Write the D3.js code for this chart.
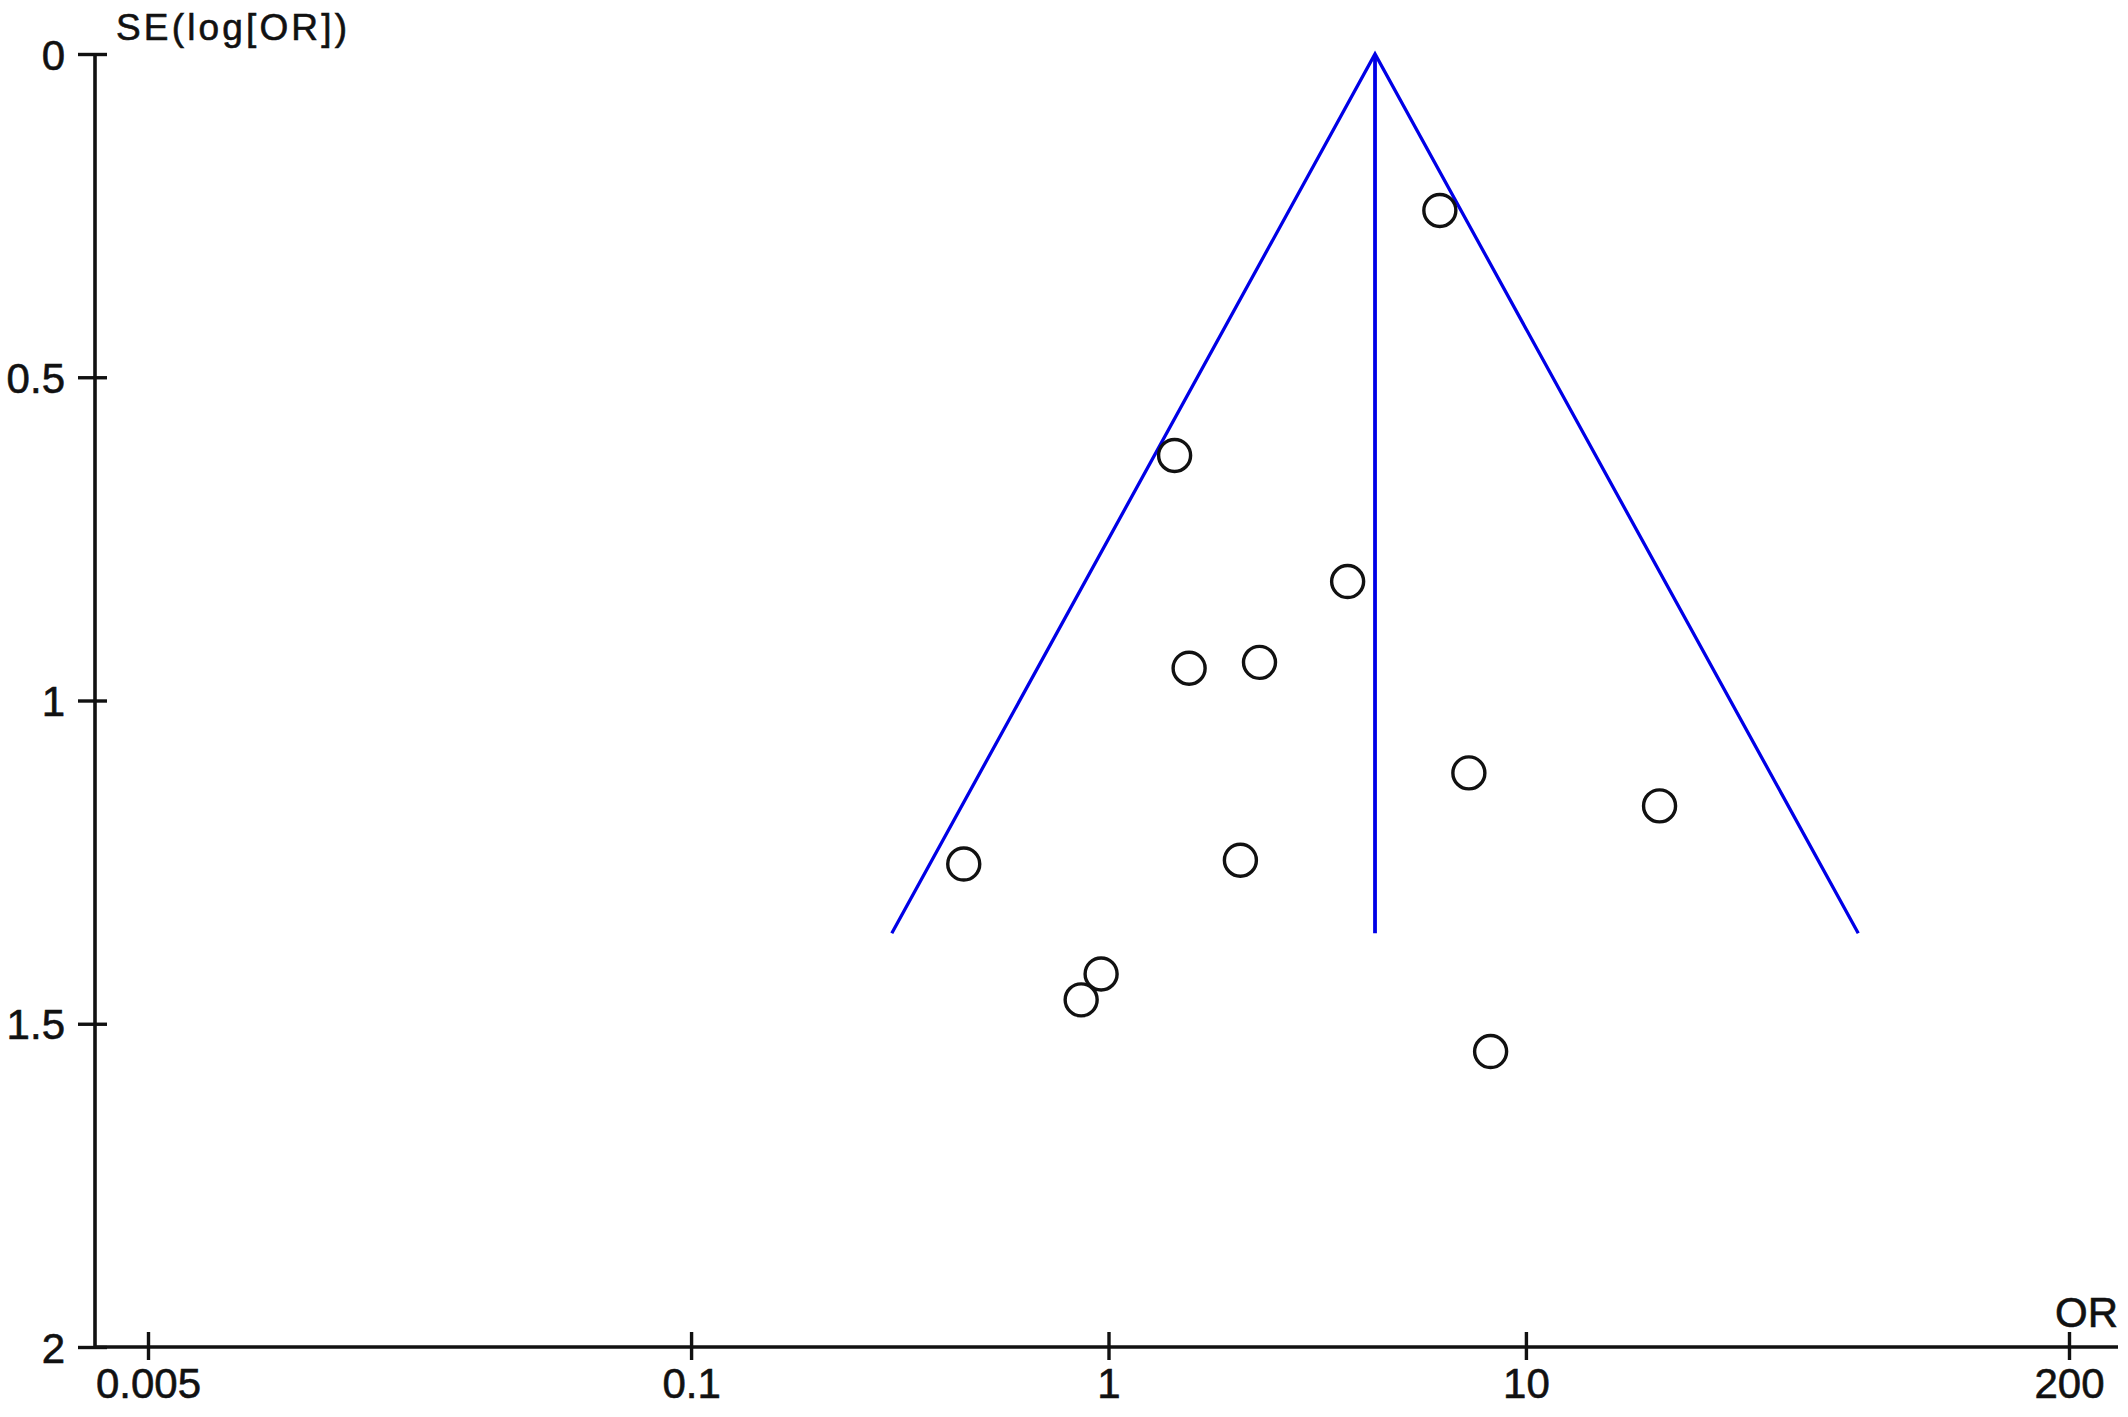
<!DOCTYPE html>
<html>
<head>
<meta charset="utf-8">
<script src="https://cdn.jsdelivr.net/npm/d3@7"></script>
<style>
  body { margin: 0; background: #fff; }
  svg { display: block; font-family: "Liberation Sans", Arial, sans-serif; }
  text { stroke: #111; stroke-width: 0.6px; }
</style>
</head>
<body>
<svg id="svg" width="2128" height="1417"></svg>
<script>
// ---- //
// Data //
// ---- //

// axis ticks
const orTicks = [0.005, 0.1, 1, 10, 200];
const seTicks = [0, 0.5, 1, 1.5, 2];

// one entry per study
const studyOR = [6.22, 1.44, 3.74, 1.56, 2.30, 7.30, 20.9, 0.45, 2.07, 0.96, 0.86, 8.23];
const studySE = [0.242, 0.621, 0.816, 0.950, 0.941, 1.112, 1.163, 1.253, 1.247, 1.423, 1.463, 1.543];

// pooled estimate and how deep the funnel goes
const pooledOR = 4.35;
const funnelMaxSE = 1.36;

// ------ //
// Scales //
// ------ //

const x = d3.scaleLog().domain([0.005, 200]).range([148, 2069]);
const y = d3.scaleLinear().domain([0, 2]).range([54, 1347]);

const axisLeftX = 95;
const axisRightX = 2118;

const svg = d3.select("#svg");

// ------ //
// Funnel //
// ------ //

// 95% limits around the pooled estimate
const z = 1.96;
const lo = Math.exp(Math.log(pooledOR) - z * funnelMaxSE);
const hi = Math.exp(Math.log(pooledOR) + z * funnelMaxSE);
const funnel = [[lo, funnelMaxSE], [pooledOR, 0], [hi, funnelMaxSE]];

const line = d3.line().x(d => x(d[0])).y(d => y(d[1]));

svg.append("path")
    .attr("d", line(funnel))
    .attr("fill", "none")
    .attr("stroke", "#0000e6")
    .attr("stroke-width", 3.3);

svg.append("path")
    .attr("d", line([[pooledOR, 0], [pooledOR, funnelMaxSE]]))
    .attr("stroke", "#0000e6")
    .attr("stroke-width", 3.8);

// ------- //
// Studies //
// ------- //

svg.append("g")
    .selectAll("circle")
    .data(d3.range(studyOR.length))
    .join("circle")
    .attr("cx", i => x(studyOR[i]))
    .attr("cy", i => y(studySE[i]))
    .attr("r", 16)
    .attr("fill", "none")
    .attr("stroke", "#111")
    .attr("stroke-width", 3.4);

// ---- //
// Axes //
// ---- //

// y axis, ticks cross the line
const gy = svg.append("g")
    .attr("transform", `translate(${axisLeftX},0)`)
    .call(d3.axisLeft(y).tickValues(seTicks).tickFormat(d => String(d)));
gy.select(".domain").remove();
gy.selectAll(".tick line")
    .attr("x1", -17).attr("x2", 12)
    .attr("stroke", "#111").attr("stroke-width", 3.4);
gy.selectAll(".tick text")
    .attr("x", -30).attr("dy", "0.36em")
    .attr("fill", "#111")
    .style("font-size", "42px").style("font-family", "inherit");

// x axis
const gx = svg.append("g")
    .attr("transform", `translate(0,${y(2)})`)
    .call(d3.axisBottom(x).tickValues(orTicks).tickFormat(d => String(d)));
gx.select(".domain").remove();
gx.selectAll(".tick line")
    .attr("y1", -15).attr("y2", 13)
    .attr("stroke", "#111").attr("stroke-width", 3.4);
gx.selectAll(".tick text")
    .attr("y", 51).attr("dy", 0)
    .attr("fill", "#111")
    .style("font-size", "42px").style("font-family", "inherit");

// axis lines
svg.append("line")
    .attr("x1", axisLeftX).attr("x2", axisLeftX)
    .attr("y1", y(0)).attr("y2", y(2))
    .attr("stroke", "#111").attr("stroke-width", 3.6);
svg.append("line")
    .attr("x1", axisLeftX).attr("x2", axisRightX)
    .attr("y1", y(2)).attr("y2", y(2))
    .attr("stroke", "#111").attr("stroke-width", 3.6);

// axis titles
svg.append("text")
    .attr("x", 116).attr("y", 40)
    .attr("textLength", 231).attr("lengthAdjust", "spacing")
    .style("font-size", "37px")
    .attr("fill", "#111")
    .text("SE(log[OR])");

svg.append("text")
    .attr("x", axisRightX).attr("y", 1327)
    .attr("text-anchor", "end")
    .style("font-size", "42px")
    .attr("fill", "#111")
    .text("OR");
</script>
</body>
</html>
